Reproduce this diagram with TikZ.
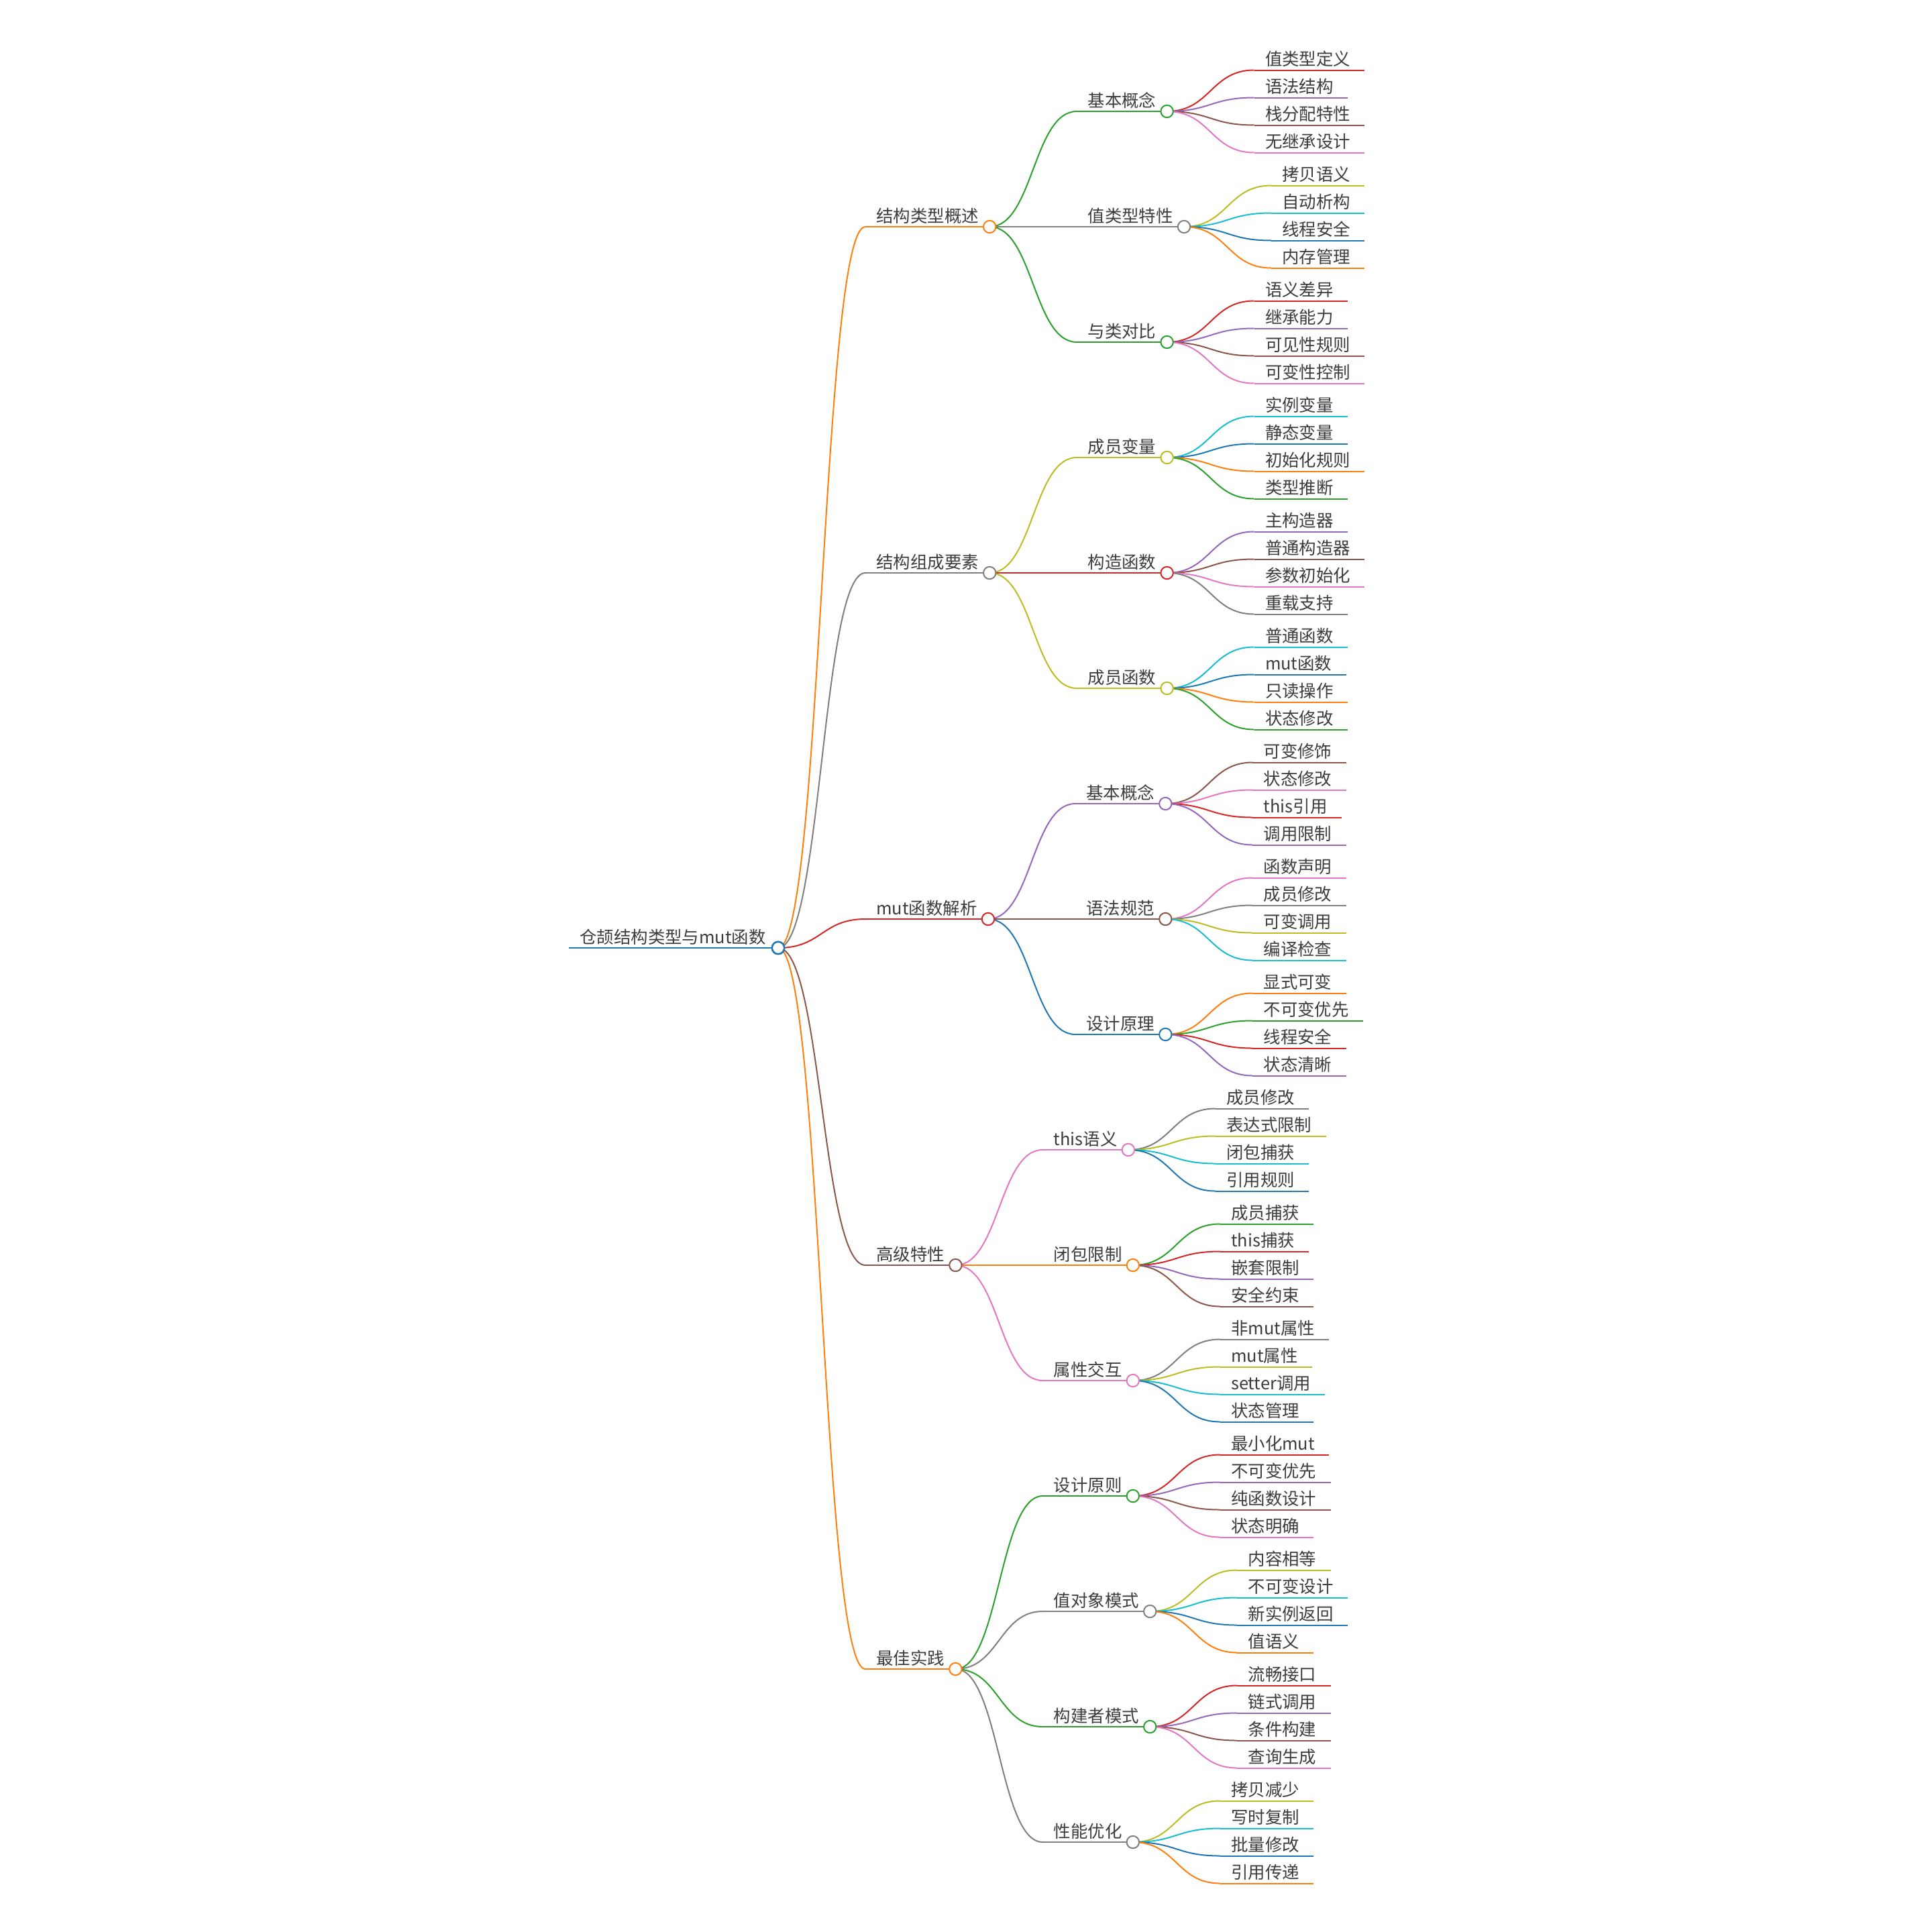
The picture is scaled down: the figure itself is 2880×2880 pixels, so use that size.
\documentclass[tikz,border=0pt]{standalone}
\usepackage{fontspec}
\setmainfont{Noto Sans CJK SC}
\usetikzlibrary{calc}
\pgfdeclarelayer{fg}
\pgfsetlayers{main,fg}
\definecolor{cB}{HTML}{1F77B4}
\definecolor{cO}{HTML}{FF7F0E}
\definecolor{cG}{HTML}{2CA02C}
\definecolor{cR}{HTML}{D62728}
\definecolor{cP}{HTML}{9467BD}
\definecolor{cN}{HTML}{8C564B}
\definecolor{cK}{HTML}{E377C2}
\definecolor{cY}{HTML}{7F7F7F}
\definecolor{cL}{HTML}{BCBD22}
\definecolor{cC}{HTML}{17BECF}
\definecolor{txtc}{HTML}{3C3C3C}
\tikzset{
  mmtext/.style={inner sep=0pt, anchor=base west, text=txtc, font=\fontsize{12.7pt}{15pt}\selectfont},
  mmline/.style={line width=1pt},
  mmdot/.style={circle, fill=white, line width=1pt, minimum size=9.2pt, inner sep=0pt},
}
\newcommand\mmBranch[5]{%
  \coordinate (#1-p) at (#2-e |- 0,#3);
  \coordinate (#1-s) at ($(#1-p)+(130,0)$);
  \node[mmtext] (#1-t) at ($(#1-s)+(16,-7)$) {#5};
  \coordinate (#1-e) at ($(#1-t.base east)+(16,7)$);
  \draw[mmline,draw=#4] (#1-s) -- (#1-e);
  \draw[mmline,draw=#4] (#2-e) .. controls +(65,0) and +(-65,0) .. (#1-s);
  \begin{pgfonlayer}{fg}\node[mmdot,draw=#4] (#1-c) at (#1-e) {};\end{pgfonlayer}
}
\newcommand\mmLeaf[5]{%
  \coordinate (#1-s) at ($(#2-e)+(130,{(#3-2.5)*41})$);
  \node[mmtext] (#1-t) at ($(#1-s)+(16,-7)$) {#5};
  \coordinate (#1-e) at ($(#1-t.base east)+(21,7)$);
  \draw[mmline,draw=#4] (#1-s) -- (#1-e);
  \draw[mmline,draw=#4] (#2-e) .. controls +(65,0) and +(-65,0) .. (#1-s);
}
\begin{document}
\begin{tikzpicture}[x=0.5pt,y=-0.5pt]
\useasboundingbox[fill=white] (0,0) rectangle (2880,2880);
% root
\coordinate (root-s) at (848,1413);
\node[mmtext] (root-t) at (864,1406) {仓颉结构类型与mut函数};
\coordinate (root-e) at (1160,1413);
\draw[line width=1.4pt, draw=cB] (root-s) -- (root-e);
\begin{pgfonlayer}{fg}\node[mmdot,draw=cB,line width=1.3pt] (root-c) at (root-e) {};\end{pgfonlayer}

% level 1
\mmBranch{A}{root}{338}{cO}{结构类型概述}
\mmBranch{B}{root}{854}{cY}{结构组成要素}
\mmBranch{C}{root}{1370}{cR}{mut函数解析}
\mmBranch{D}{root}{1886}{cN}{高级特性}
\mmBranch{E}{root}{2488}{cO}{最佳实践}

% A
\mmBranch{A1}{A}{166}{cG}{基本概念}
\mmLeaf{A1a}{A1}{1}{cR}{值类型定义}
\mmLeaf{A1b}{A1}{2}{cP}{语法结构}
\mmLeaf{A1c}{A1}{3}{cN}{栈分配特性}
\mmLeaf{A1d}{A1}{4}{cK}{无继承设计}
\mmBranch{A2}{A}{338}{cY}{值类型特性}
\mmLeaf{A2a}{A2}{1}{cL}{拷贝语义}
\mmLeaf{A2b}{A2}{2}{cC}{自动析构}
\mmLeaf{A2c}{A2}{3}{cB}{线程安全}
\mmLeaf{A2d}{A2}{4}{cO}{内存管理}
\mmBranch{A3}{A}{510}{cG}{与类对比}
\mmLeaf{A3a}{A3}{1}{cR}{语义差异}
\mmLeaf{A3b}{A3}{2}{cP}{继承能力}
\mmLeaf{A3c}{A3}{3}{cN}{可见性规则}
\mmLeaf{A3d}{A3}{4}{cK}{可变性控制}

% B
\mmBranch{B1}{B}{682}{cL}{成员变量}
\mmLeaf{B1a}{B1}{1}{cC}{实例变量}
\mmLeaf{B1b}{B1}{2}{cB}{静态变量}
\mmLeaf{B1c}{B1}{3}{cO}{初始化规则}
\mmLeaf{B1d}{B1}{4}{cG}{类型推断}
\mmBranch{B2}{B}{854}{cR}{构造函数}
\mmLeaf{B2a}{B2}{1}{cP}{主构造器}
\mmLeaf{B2b}{B2}{2}{cN}{普通构造器}
\mmLeaf{B2c}{B2}{3}{cK}{参数初始化}
\mmLeaf{B2d}{B2}{4}{cY}{重载支持}
\mmBranch{B3}{B}{1026}{cL}{成员函数}
\mmLeaf{B3a}{B3}{1}{cC}{普通函数}
\mmLeaf{B3b}{B3}{2}{cB}{mut函数}
\mmLeaf{B3c}{B3}{3}{cO}{只读操作}
\mmLeaf{B3d}{B3}{4}{cG}{状态修改}

% C
\mmBranch{C1}{C}{1198}{cP}{基本概念}
\mmLeaf{C1a}{C1}{1}{cN}{可变修饰}
\mmLeaf{C1b}{C1}{2}{cK}{状态修改}
\mmLeaf{C1c}{C1}{3}{cR}{this引用}
\mmLeaf{C1d}{C1}{4}{cP}{调用限制}
\mmBranch{C2}{C}{1370}{cN}{语法规范}
\mmLeaf{C2a}{C2}{1}{cK}{函数声明}
\mmLeaf{C2b}{C2}{2}{cY}{成员修改}
\mmLeaf{C2c}{C2}{3}{cL}{可变调用}
\mmLeaf{C2d}{C2}{4}{cC}{编译检查}
\mmBranch{C3}{C}{1542}{cB}{设计原理}
\mmLeaf{C3a}{C3}{1}{cO}{显式可变}
\mmLeaf{C3b}{C3}{2}{cG}{不可变优先}
\mmLeaf{C3c}{C3}{3}{cR}{线程安全}
\mmLeaf{C3d}{C3}{4}{cP}{状态清晰}

% D
\mmBranch{D1}{D}{1714}{cK}{this语义}
\mmLeaf{D1a}{D1}{1}{cY}{成员修改}
\mmLeaf{D1b}{D1}{2}{cL}{表达式限制}
\mmLeaf{D1c}{D1}{3}{cC}{闭包捕获}
\mmLeaf{D1d}{D1}{4}{cB}{引用规则}
\mmBranch{D2}{D}{1886}{cO}{闭包限制}
\mmLeaf{D2a}{D2}{1}{cG}{成员捕获}
\mmLeaf{D2b}{D2}{2}{cR}{this捕获}
\mmLeaf{D2c}{D2}{3}{cP}{嵌套限制}
\mmLeaf{D2d}{D2}{4}{cN}{安全约束}
\mmBranch{D3}{D}{2058}{cK}{属性交互}
\mmLeaf{D3a}{D3}{1}{cY}{非mut属性}
\mmLeaf{D3b}{D3}{2}{cL}{mut属性}
\mmLeaf{D3c}{D3}{3}{cC}{setter调用}
\mmLeaf{D3d}{D3}{4}{cB}{状态管理}

% E
\mmBranch{E1}{E}{2230}{cG}{设计原则}
\mmLeaf{E1a}{E1}{1}{cR}{最小化mut}
\mmLeaf{E1b}{E1}{2}{cP}{不可变优先}
\mmLeaf{E1c}{E1}{3}{cN}{纯函数设计}
\mmLeaf{E1d}{E1}{4}{cK}{状态明确}
\mmBranch{E2}{E}{2402}{cY}{值对象模式}
\mmLeaf{E2a}{E2}{1}{cL}{内容相等}
\mmLeaf{E2b}{E2}{2}{cC}{不可变设计}
\mmLeaf{E2c}{E2}{3}{cB}{新实例返回}
\mmLeaf{E2d}{E2}{4}{cO}{值语义}
\mmBranch{E3}{E}{2574}{cG}{构建者模式}
\mmLeaf{E3a}{E3}{1}{cR}{流畅接口}
\mmLeaf{E3b}{E3}{2}{cP}{链式调用}
\mmLeaf{E3c}{E3}{3}{cN}{条件构建}
\mmLeaf{E3d}{E3}{4}{cK}{查询生成}
\mmBranch{E4}{E}{2746}{cY}{性能优化}
\mmLeaf{E4a}{E4}{1}{cL}{拷贝减少}
\mmLeaf{E4b}{E4}{2}{cC}{写时复制}
\mmLeaf{E4c}{E4}{3}{cB}{批量修改}
\mmLeaf{E4d}{E4}{4}{cO}{引用传递}
\end{tikzpicture}
\end{document}
